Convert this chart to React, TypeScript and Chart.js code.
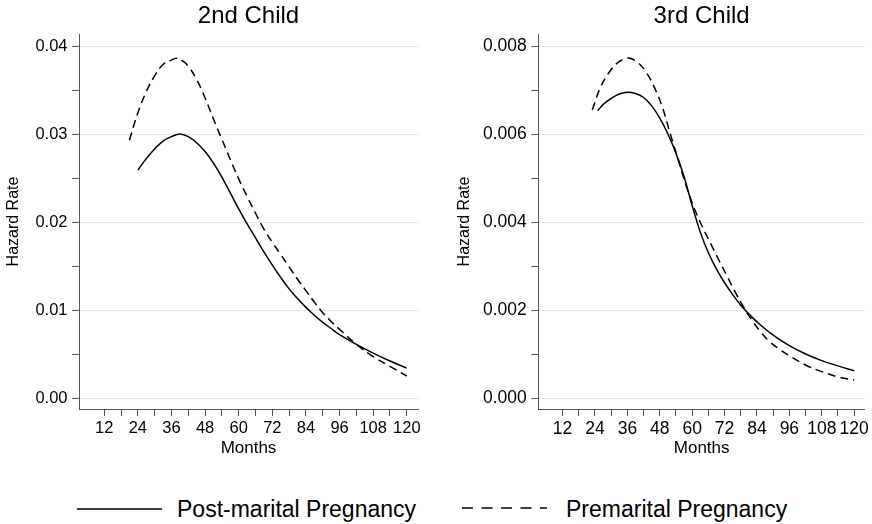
import React, { useEffect, useRef } from 'react';
import { Chart, registerables } from 'chart.js';

Chart.register(...registerables);

const FONT = "'Liberation Sans', Arial, Helvetica, sans-serif";

// ---- text ----
const seriesLabels = ['Post-marital Pregnancy', 'Premarital Pregnancy'];
const panelTitles = ['2nd Child', '3rd Child'];
const xAxisTitle = 'Months';
const yAxisTitle = 'Hazard Rate';

// ---- axis ticks ----
const xTickValues = [12, 18, 24, 30, 36, 42, 48, 54, 60, 66, 72, 78, 84, 90, 96, 102, 108, 114, 120];
const xTickLabels = [12, 24, 36, 48, 60, 72, 84, 96, 108, 120];
const yTicks2nd = [0, 0.005, 0.01, 0.015, 0.02, 0.025, 0.03, 0.035, 0.04];
const yLabels2nd = [0, 0.01, 0.02, 0.03, 0.04];
const yTicks3rd = [0, 0.001, 0.002, 0.003, 0.004, 0.005, 0.006, 0.007, 0.008];
const yLabels3rd = [0, 0.002, 0.004, 0.006, 0.008];

// ---- 2nd child ----
const months2ndPost = [24, 27, 30, 33, 36, 39, 42, 45, 48, 51, 54, 57, 60, 63, 66, 69, 72, 75, 78, 81, 84, 87, 90, 93, 96, 102, 108, 114, 120];
const hazard2ndPost = [0.0259, 0.0272, 0.0283, 0.0292, 0.0297, 0.0300, 0.0297, 0.0290, 0.0280, 0.0267, 0.0251, 0.0233, 0.0215, 0.0198, 0.0182, 0.0166, 0.0151, 0.0137, 0.0124, 0.0113, 0.0103, 0.0094, 0.0086, 0.0079, 0.0072, 0.0061, 0.0051, 0.0042, 0.0034];
const months2ndPre = [21, 24, 27, 30, 33, 36, 38, 40, 42, 45, 48, 51, 54, 57, 60, 63, 66, 69, 72, 75, 78, 81, 84, 87, 90, 93, 96, 102, 108, 114, 120];
const hazard2ndPre = [0.0293, 0.0324, 0.0348, 0.0366, 0.0379, 0.0384, 0.0386, 0.0383, 0.0377, 0.0362, 0.0341, 0.0317, 0.0294, 0.0271, 0.0249, 0.0229, 0.0210, 0.0192, 0.0177, 0.0163, 0.0149, 0.0135, 0.0122, 0.0109, 0.0097, 0.0087, 0.0078, 0.0061, 0.0047, 0.0036, 0.0025];

// ---- 3rd child ----
const months3rdPost = [25, 27, 30, 33, 36, 39, 42, 45, 48, 51, 54, 57, 60, 63, 66, 69, 72, 75, 78, 81, 84, 90, 96, 102, 108, 114, 120];
const hazard3rdPost = [0.00653, 0.00667, 0.00681, 0.00691, 0.00695, 0.00692, 0.00683, 0.00664, 0.00636, 0.00600, 0.00556, 0.00503, 0.00437, 0.00377, 0.00330, 0.00293, 0.00262, 0.00235, 0.00211, 0.00191, 0.00173, 0.00143, 0.00119, 0.00100, 0.00085, 0.00073, 0.00062];
const months3rdPre = [23, 26, 29, 32, 35, 37, 40, 43, 46, 49, 52, 55, 58, 61, 64, 67, 70, 73, 76, 79, 82, 85, 88, 92, 96, 102, 108, 114, 120];
const hazard3rdPre = [0.00655, 0.00706, 0.00738, 0.00760, 0.00771, 0.00772, 0.00762, 0.00740, 0.00706, 0.00660, 0.00598, 0.00538, 0.00478, 0.00428, 0.00386, 0.00349, 0.00312, 0.00276, 0.00240, 0.00207, 0.00178, 0.00153, 0.00132, 0.00112, 0.00096, 0.00075, 0.00060, 0.00048, 0.00041];

const AXIS = '#555555';
const GRID = '#e6e6e6';

type Panel = {
  title: string;
  postX: number[]; postY: number[];
  preX: number[]; preY: number[];
  yTicks: number[]; yLabels: number[]; decimals: number;
  yMin: number; yMax: number;
  yAxisWidth: number; yTitlePad: number; padRight: number; tickSize: number;
};

const near = (list: number[], v: number) => list.some((m) => Math.abs(m - v) < 1e-9);

function buildConfig(p: Panel): any {
  const toPts = (xs: number[], ys: number[]) => xs.map((x, i) => ({ x, y: ys[i] }));
  return {
    type: 'line',
    data: {
      datasets: [
        {
          label: seriesLabels[0],
          data: toPts(p.postX, p.postY),
          borderColor: '#000',
          borderWidth: 1.5,
          pointRadius: 0,
          fill: false,
          tension: 0.4,
        },
        {
          label: seriesLabels[1],
          data: toPts(p.preX, p.preY),
          borderColor: '#000',
          borderWidth: 1.5,
          borderDash: [8, 5],
          pointRadius: 0,
          fill: false,
          tension: 0.4,
        },
      ],
    },
    options: {
      responsive: false,
      animation: false,
      events: [],
      layout: { padding: { left: 0, right: p.padRight, top: 0, bottom: 11 } },
      plugins: {
        legend: { display: false },
        tooltip: { enabled: false },
        title: {
          display: true,
          text: p.title,
          fullSize: false,
          color: '#000',
          font: { family: FONT, size: 24, weight: 'normal' },
          padding: { top: 2.3, bottom: 2.9 },
        },
      },
      scales: {
        x: {
          type: 'linear',
          min: 3,
          max: 124,
          afterBuildTicks: (s: any) => {
            s.ticks = xTickValues.map((v) => ({ value: v }));
          },
          afterFit: (s: any) => {
            s.height = 50;
          },
          ticks: {
            autoSkip: false,
            maxRotation: 0,
            minRotation: 0,
            padding: 3,
            color: '#000',
            font: { family: FONT, size: p.tickSize },
            callback: (v: number) => (near(xTickLabels, v) ? String(v) : ''),
          },
          grid: { drawOnChartArea: false, drawTicks: true, tickLength: 7, tickColor: AXIS, color: AXIS },
          border: { display: true, color: AXIS, width: 1 },
          title: {
            display: true,
            text: xAxisTitle,
            color: '#000',
            font: { family: FONT, size: 17 },
            padding: { top: 0, bottom: 0 },
          },
        },
        y: {
          type: 'linear',
          min: p.yMin,
          max: p.yMax,
          afterBuildTicks: (s: any) => {
            s.ticks = p.yTicks.map((v) => ({ value: v }));
          },
          afterFit: (s: any) => {
            s.width = p.yAxisWidth;
          },
          ticks: {
            autoSkip: false,
            padding: 4.5,
            color: '#000',
            font: { family: FONT, size: p.tickSize },
            callback: (v: number) => (near(p.yLabels, v) ? Number(v).toFixed(p.decimals) : ''),
          },
          grid: {
            color: (ctx: any) => (ctx.tick && near(p.yLabels, ctx.tick.value) ? GRID : 'rgba(0,0,0,0)'),
            tickColor: AXIS,
            tickLength: 7,
            lineWidth: 1,
          },
          border: { display: true, color: AXIS, width: 1 },
          title: {
            display: true,
            text: yAxisTitle,
            color: '#000',
            font: { family: FONT, size: 16 },
            padding: { top: p.yTitlePad, bottom: 0 },
          },
        },
      },
    },
  };
}

const panels: Panel[] = [
  {
    title: panelTitles[0],
    postX: months2ndPost, postY: hazard2ndPost,
    preX: months2ndPre, preY: hazard2ndPre,
    yTicks: yTicks2nd, yLabels: yLabels2nd, decimals: 2,
    yMin: -0.00125, yMax: 0.041364,
    yAxisWidth: 79, yTitlePad: 4.4, padRight: 18, tickSize: 16.5,
  },
  {
    title: panelTitles[1],
    postX: months3rdPost, postY: hazard3rdPost,
    preX: months3rdPre, preY: hazard3rdPre,
    yTicks: yTicks3rd, yLabels: yLabels3rd, decimals: 3,
    yMin: -0.00025, yMax: 0.008273,
    yAxisWidth: 102.3, yTitlePad: 19.4, padRight: 4.3, tickSize: 17.5,
  },
];

function PanelChart({ panel, left }: { panel: Panel; left: number }) {
  const ref = useRef<HTMLCanvasElement | null>(null);
  useEffect(() => {
    if (!ref.current) return;
    const chart = new Chart(ref.current, buildConfig(panel));
    return () => chart.destroy();
  }, [panel]);
  return (
    <canvas
      ref={ref}
      width={436}
      height={470}
      style={{ position: 'absolute', left, top: 0, width: 436, height: 470 }}
    />
  );
}

export default function App() {
  Chart.defaults.font.family = FONT;
  Chart.defaults.color = '#000';
  const legendText: React.CSSProperties = {
    position: 'absolute',
    top: 495,
    fontFamily: FONT,
    fontSize: 23,
    lineHeight: '28px',
    color: '#000',
    whiteSpace: 'nowrap',
  };
  return (
    <div
      style={{
        position: 'absolute',
        left: 0,
        top: 0,
        width: 872,
        height: 524,
        background: '#fff',
        overflow: 'hidden',
      }}
    >
      <PanelChart panel={panels[0]} left={0} />
      <PanelChart panel={panels[1]} left={436} />
      <svg style={{ position: 'absolute', left: 77, top: 505 }} width={85} height={8}>
        <line x1={0} y1={4} x2={85} y2={4} stroke="#000" strokeWidth={1.5} />
      </svg>
      <div style={{ ...legendText, left: 177 }}>{seriesLabels[0]}</div>
      <svg style={{ position: 'absolute', left: 462, top: 504 }} width={85} height={8}>
        <line x1={0} y1={4} x2={85} y2={4} stroke="#000" strokeWidth={1.5} strokeDasharray="11 8.5" />
      </svg>
      <div style={{ ...legendText, left: 566 }}>{seriesLabels[1]}</div>
    </div>
  );
}
